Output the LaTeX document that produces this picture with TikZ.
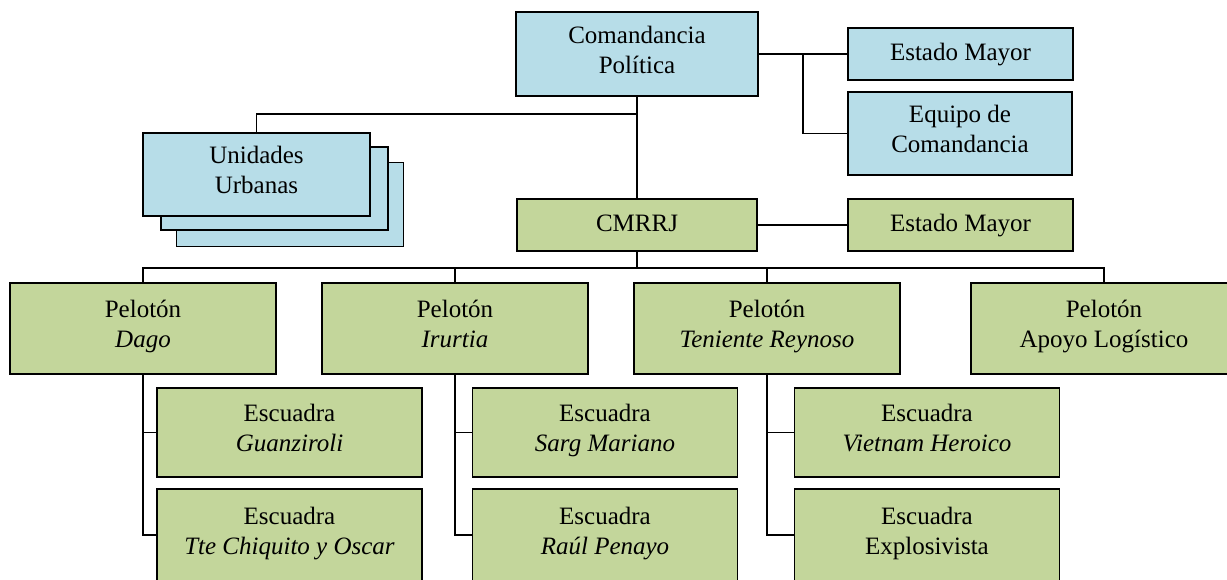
\documentclass[tikz,border=0pt]{standalone}
\usepackage{fontspec}
\setmainfont{Liberation Serif}
\usetikzlibrary{positioning}
\definecolor{celeste}{RGB}{183,221,232}
\definecolor{oliva}{RGB}{195,214,155}
\tikzset{
  caja/.style={draw,line width=0.8pt,align=center,inner sep=0pt,
    font=\fontsize{12.5}{15}\selectfont,
    execute at begin node=\strut,execute at end node=\strut},
  azul/.style={caja,fill=celeste},
  verde/.style={caja,fill=oliva},
  liga/.style={line width=0.7pt}
}

\begin{document}
\begin{tikzpicture}[x=0.5pt,y=-0.5pt]
      \useasboundingbox (0,0) rectangle (1227,579);

      % comandancia
      \node[azul,minimum width=121pt,minimum height=42pt] (cp) at (637,54) {Comandancia\\Política};
      \node[azul,minimum width=112.5pt,minimum height=26pt] (em1) at (960.5,54) {Estado Mayor};
      \node[azul,minimum width=112pt,minimum height=41.5pt] (eq) at (960,133.5) {Equipo de\\Comandancia};

      % unidades urbanas (pila)
      \node[azul,minimum width=113.5pt,minimum height=42pt] (uu3) at (290,204.5) {};
      \node[azul,minimum width=113.5pt,minimum height=41.5pt] (uu2) at (274.5,188.5) {};
      \node[azul,minimum width=113.5pt,minimum height=41.5pt] (uu) at (256.5,174.5) {Unidades\\Urbanas};

      \node[verde,minimum width=120pt,minimum height=26pt] (cm) at (637,225) {CMRRJ};
      \node[verde,minimum width=112.5pt,minimum height=26pt] (em2) at (960.5,225) {Estado Mayor};

      % pelotones
      \node[verde,minimum width=133pt,minimum height=45.5pt] (pd) at (143,328.5) {Pelotón\\\textit{Dago}};
      \node[verde,minimum width=133pt,minimum height=45.5pt] (pi) at (455,328.5) {Pelotón\\\textit{Irurtia}};
      \node[verde,minimum width=133pt,minimum height=45.5pt] (pt) at (767,328.5) {Pelotón\\\textit{Teniente Reynoso}};
      \node[verde,minimum width=133pt,minimum height=45.5pt] (pa) at (1104,328.5) {Pelotón\\Apoyo Logístico};

      % escuadras
      \node[verde,minimum width=132.5pt,minimum height=44.5pt] (eg) at (289.5,432.5) {Escuadra\\\textit{Guanziroli}};
      \node[verde,minimum width=132.5pt,minimum height=46pt] (ec) at (289.5,535) {Escuadra\\\textit{Tte Chiquito y Oscar}};
      \node[verde,minimum width=132.5pt,minimum height=44.5pt] (es) at (605,432.5) {Escuadra\\\textit{Sarg Mariano}};
      \node[verde,minimum width=132.5pt,minimum height=46pt] (er) at (605,535) {Escuadra\\\textit{Raúl Penayo}};
      \node[verde,minimum width=132.5pt,minimum height=44.5pt] (ev) at (927,432.5) {Escuadra\\\textit{Vietnam Heroico}};
      \node[verde,minimum width=132.5pt,minimum height=46pt] (ex) at (927,535) {Escuadra\\Explosivista};

      \coordinate (cpj) at (637,114);
      \coordinate (bus) at (637,268);

      \draw[liga] (cp.south) -- (cm.north);
      \draw[liga] (uu.north) |- (cpj);
      \draw[liga] (cp.east |- em1.west) -- (em1.west);
      \draw[liga] (cp.east) ++(44,0) |- (eq.west);
      \draw[liga] (cm.east) -- (em2.west);

      \draw[liga] (cm.south) -- (bus);
      \foreach \p in {pd,pi,pt,pa}
        \draw[liga] (\p.north) |- (bus);

      \foreach \p/\a/\b in {pd/eg/ec,pi/es/er,pt/ev/ex}{
        \draw[liga] (\p.south) |- (\a.west);
        \draw[liga] (\p.south) |- (\b.west);
      }
\end{tikzpicture}
\end{document}
